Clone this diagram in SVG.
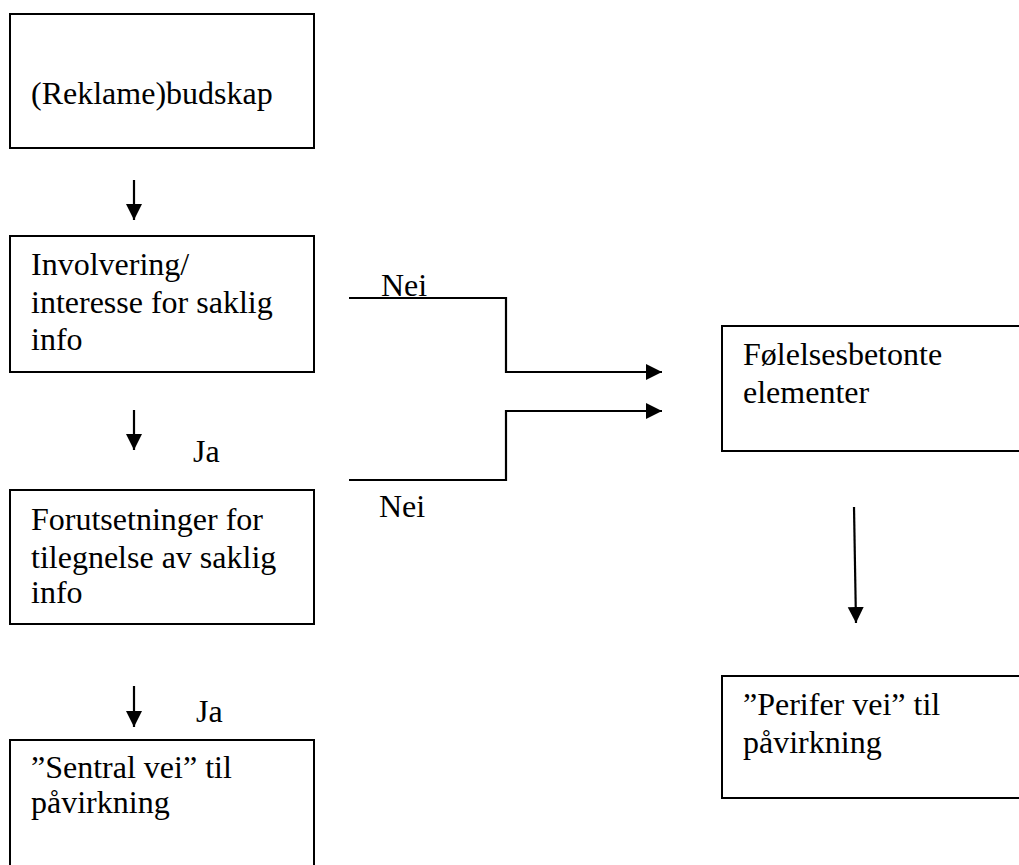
<svg xmlns="http://www.w3.org/2000/svg" width="1019" height="865" viewBox="0 0 1019 865">
<defs>
<style>
.box{fill:#fff;stroke:#000;stroke-width:2}
.t{font-family:"Liberation Serif","Times New Roman",serif;font-size:32px;fill:#000}
.c{fill:none;stroke:#000;stroke-width:2.2}
</style>
<marker id="ah" markerUnits="userSpaceOnUse" markerWidth="17" markerHeight="17" refX="16" refY="8" orient="auto">
<path d="M0,0 L16,8 L0,16 z" fill="#000"/>
</marker>
</defs>
<rect width="1019" height="865" fill="#fff"/>
<g id="n1">
<rect class="box" x="10" y="14" width="304" height="134"/>
<text class="t" x="31" y="104">(Reklame)budskap</text>
</g>
<g id="n2">
<rect class="box" x="10" y="236" width="304" height="136"/>
<text class="t" x="31" y="275">Involvering/</text>
<text class="t" x="31" y="313">interesse for saklig</text>
<text class="t" x="31" y="350">info</text>
</g>
<g id="n3">
<rect class="box" x="10" y="490" width="304" height="134"/>
<text class="t" x="31" y="530">Forutsetninger for</text>
<text class="t" x="31" y="568">tilegnelse av saklig</text>
<text class="t" x="31" y="603">info</text>
</g>
<g id="n4">
<rect class="box" x="10" y="740" width="304" height="140"/>
<text class="t" x="31" y="778">”Sentral vei” til</text>
<text class="t" x="31" y="813">påvirkning</text>
</g>
<g id="n5">
<rect class="box" x="722" y="326" width="320" height="125"/>
<text class="t" x="743" y="365">Følelsesbetonte</text>
<text class="t" x="743" y="403">elementer</text>
</g>
<g id="n6">
<rect class="box" x="722" y="676" width="320" height="122"/>
<text class="t" x="743" y="715">”Perifer vei” til</text>
<text class="t" x="743" y="753">påvirkning</text>
</g>
<g id="connectors">
<line class="c" x1="134" y1="180" x2="134" y2="220" marker-end="url(#ah)"/>
<line class="c" x1="134" y1="410" x2="134" y2="450" marker-end="url(#ah)"/>
<line class="c" x1="134" y1="686" x2="134" y2="727" marker-end="url(#ah)"/>
<line class="c" x1="854" y1="507" x2="856" y2="623" marker-end="url(#ah)"/>
<polyline class="c" points="349,298 506,298 506,372 662,372" marker-end="url(#ah)"/>
<polyline class="c" points="349,480 506,480 506,411 662,411" marker-end="url(#ah)"/>
</g>
<g id="labels">
<text class="t" x="381" y="296">Nei</text>
<text class="t" x="379" y="517">Nei</text>
<text class="t" x="193" y="462">Ja</text>
<text class="t" x="196" y="722">Ja</text>
</g>
</svg>
